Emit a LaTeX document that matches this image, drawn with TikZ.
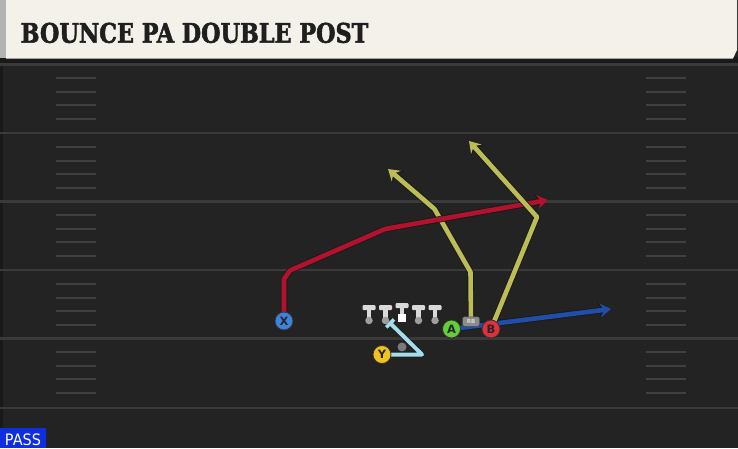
\documentclass[tikz,border=0pt]{standalone}
\usepackage{fontspec}
\usetikzlibrary{arrows.meta}
\newfontfamily\titlefont{DejaVu Serif Condensed}[FakeBold=2]
\newfontfamily\labelfont{DejaVu Sans}
\newfontfamily\passfont{DejaVu Sans}
\definecolor{field}{HTML}{232323}
\definecolor{yardc}{HTML}{3A3A3A}
\definecolor{hashc}{HTML}{404040}
\definecolor{cream}{HTML}{F4F1EA}
\definecolor{redr}{HTML}{B3122E}
\definecolor{yelr}{HTML}{BDBD58}
\definecolor{bluer}{HTML}{1F4FA8}
\definecolor{skyr}{HTML}{A6DDEB}
\definecolor{xblue}{HTML}{3F82DC}
\definecolor{yyel}{HTML}{F2C21F}
\definecolor{agrn}{HTML}{62CE38}
\definecolor{bred}{HTML}{E0303C}
\definecolor{passblue}{HTML}{0F2EE0}
\tikzset{
  yard/.style={yardc, line width=2.2pt},
  hashmark/.style={hashc, line width=2pt},
  routeshadow/.style={black!90, line width=6.5pt, line join=round, opacity=0.85},
  routeline/.style={line width=4.6pt, line join=round},
  arrowtip/.style={-{Stealth[length=11pt, width=14pt, inset=4pt]}},
  arrowtipshadow/.style={-{Stealth[length=13pt, width=16.5pt, inset=4.5pt]}},
  player/.style={circle, minimum size=18pt, inner sep=0pt, draw=black!80, line width=0.8pt,
    font=\labelfont\bfseries\fontsize{11.5}{11.5}\selectfont, text=black!85},
  lineman/.style={fill=black!15},
}
\begin{document}
\begin{tikzpicture}[x=1pt,y=-1pt]
\useasboundingbox (0,0) rectangle (738,448);
\fill[field] (0,0) rectangle (738,448);
\fill[black!28!field] (0,60) rectangle (3,448);
% header
\fill[black!90] (0,57) rectangle (738,63.5);
\fill[black!30] (0,0) rectangle (6,58);
\fill[cream] (6,0) -- (737,0) -- (737,50) -- (733,58.5) -- (6,58.5) -- cycle;
\node[anchor=base west, inner sep=0pt, text=black!88] (title) at (20.5,42.7)
  {\resizebox{347.5pt}{20pt}{\titlefont\bfseries BOUNCE PA DOUBLE POST}};
% yard lines and hashes
\foreach \L in {64.5,133,201.5,270,338.5,408}{
  \draw[yard] (0,\L) -- (738,\L);
}
\foreach \L in {64.5,133,201.5,270,338.5}{
  \foreach \d in {13.9,27.7,40.5,54.7}{
    \draw[hashmark] (56,\L+\d) -- (95.5,\L+\d);
    \draw[hashmark] (646,\L+\d) -- (686,\L+\d);
  }
}
% positions
\coordinate (pX) at (284,321);
\coordinate (pY) at (382,354.5);
\coordinate (pA) at (451.5,329);
\coordinate (pB) at (491,329);
\coordinate (pRB) at (471,321.5);
\coordinate (pQB) at (402,347);
% route waypoints
\coordinate (x1) at (284,279);
\coordinate (x2) at (290,270.5);
\coordinate (x3) at (385,229);
\coordinate (xe) at (548,200);
\coordinate (r1) at (470.5,272);
\coordinate (r2) at (434.5,209);
\coordinate (re) at (388,169);
\coordinate (b1) at (537,217);
\coordinate (be) at (469,141);
\coordinate (ae) at (611,309);
\coordinate (y1) at (422,354.5);
\coordinate (ye) at (390,323);
\coordinate (yb1) at (386.2,327.4);
\coordinate (yb2) at (394,319.4);
% blue route (A)
\draw[routeshadow, arrowtipshadow] (pA) -- (ae);
\draw[routeline, bluer, arrowtip] (pA) -- (ae);
% QB dot
\node[circle, fill=black!52, minimum size=9pt, inner sep=0pt] (QB) at (pQB) {};
% Y block route
\draw[routeshadow, line width=5.5pt] (pY) -- (y1) -- (ye);
\draw[routeshadow, line width=5.5pt] (yb1) -- (yb2);
\draw[routeline, skyr, line width=4pt] (pY) -- (y1) -- (ye);
\draw[skyr, line width=3.6pt] (yb1) -- (yb2);
% RB route
\draw[routeshadow, arrowtipshadow] (pRB) -- (r1) -- (r2) -- (re);
\draw[routeline, yelr, arrowtip] (pRB) -- (r1) -- (r2) -- (re);
% X route
\draw[routeshadow, arrowtipshadow] (pX) -- (x1) -- (x2) -- (x3) -- (xe);
\draw[routeline, redr, arrowtip] (pX) -- (x1) -- (x2) -- (x3) -- (xe);
% B route
\draw[routeshadow, arrowtipshadow] (pB) -- (b1) -- (be);
\draw[routeline, yelr, arrowtip] (pB) -- (b1) -- (be);
% linemen
\foreach \i/\x in {1/369,2/385.5,4/418.5,5/435}{
  \fill[lineman, rounded corners=1pt] (\x-6.5,305) rectangle (\x+6.5,310);
  \fill[lineman] (\x-2.2,309) rectangle (\x+2.2,319);
  \node[circle, fill=black!38, minimum size=7.5pt, inner sep=0pt] (OL\i) at (\x,320.5) {};
}
\fill[lineman, rounded corners=1pt] (395.5,303) rectangle (408.5,308);
\fill[lineman] (399.8,307) rectangle (404.2,314);
\node[fill=white, minimum size=8.5pt, inner sep=0pt] (C) at (402,318) {};
% players
\node[player, fill=xblue] (X) at (pX) {X};
\node[player, fill=yyel] (Y) at (pY) {Y};
\node[player, fill=agrn] (A) at (pA) {A};
\node[player, fill=bred] (B) at (pB) {B};
\node[rounded corners=2pt, fill=black!45, draw=black!70, line width=0.5pt, minimum width=17pt, minimum height=9.5pt, inner sep=0pt,
  font=\labelfont\bfseries\fontsize{5.5}{5.5}\selectfont, text=white!85!black] (RB) at (pRB) {RB};
% pass badge
\fill[passblue] (0,428.3) rectangle (45.5,448);
\node[anchor=base west, inner sep=0pt, text=white] (pass) at (4.8,445)
  {\resizebox{36pt}{11.7pt}{\passfont PASS}};
\end{tikzpicture}
\end{document}
